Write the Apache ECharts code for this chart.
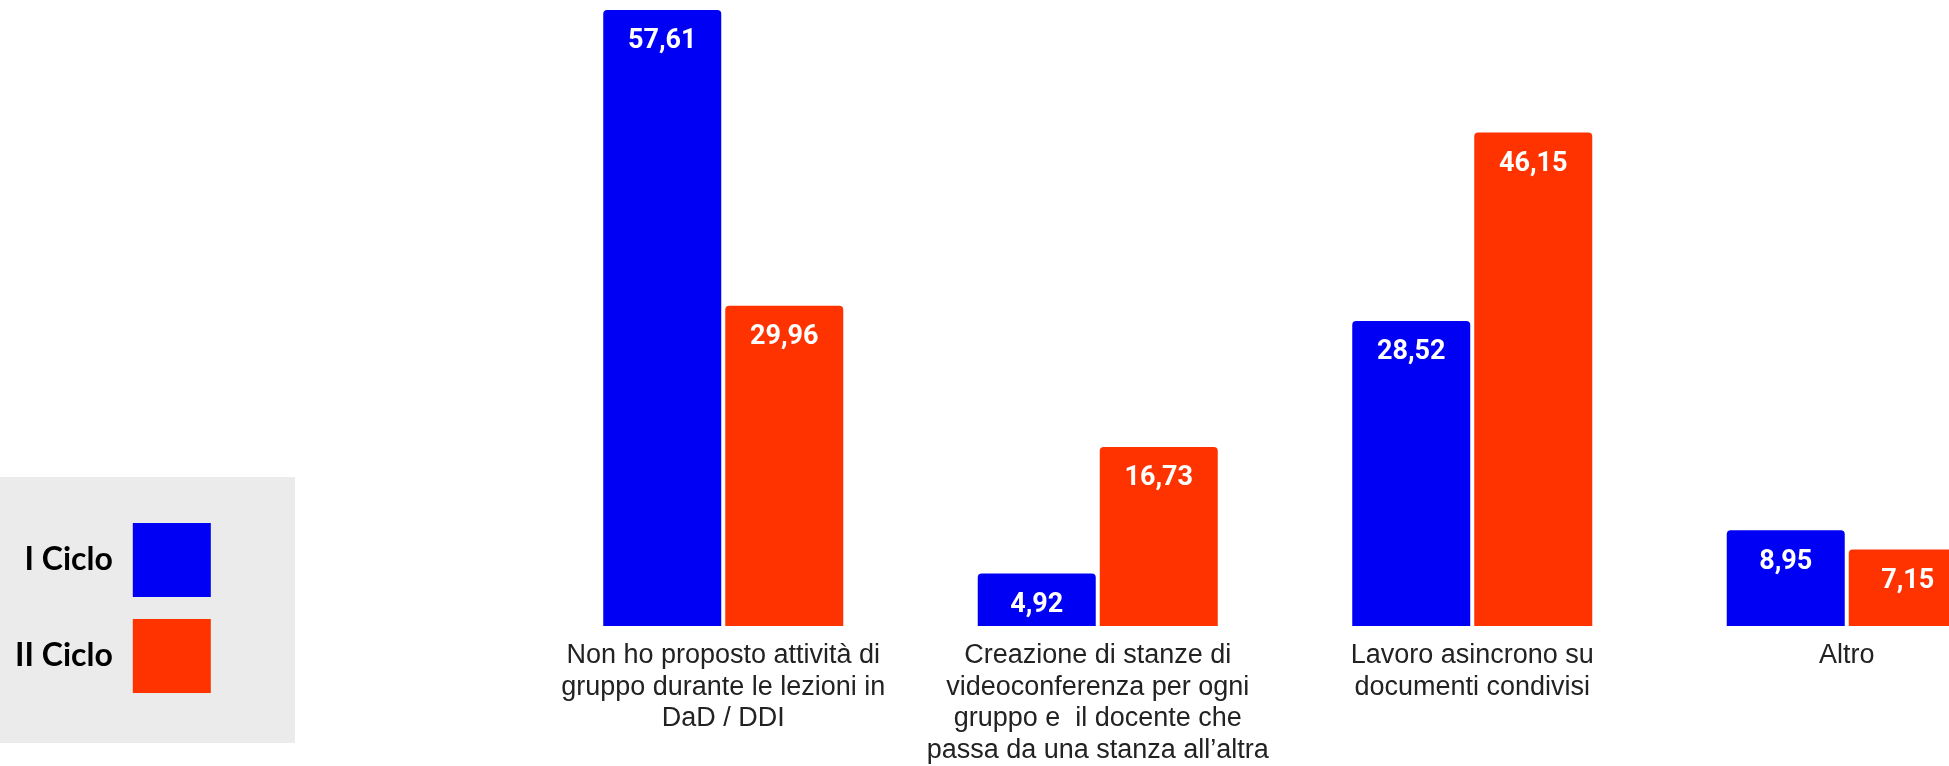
<!DOCTYPE html>
<html>
<head>
<meta charset="utf-8">
<script src="https://cdn.jsdelivr.net/npm/echarts@6/dist/echarts.min.js"></script>
<style>
html,body{margin:0;padding:0;background:#fff;}
#chart{width:1949px;height:766px;}
</style>
</head>
<body>
<div id="chart"></div>
<script>
const categories = [
  "Non ho proposto attività di\ngruppo durante le lezioni in\nDaD / DDI",
  "Creazione di stanze di\nvideoconferenza per ogni\ngruppo e  il docente che\npassa da una stanza all’altra",
  "Lavoro asincrono su\ndocumenti condivisi",
  "Altro"
];
const seriesNames = ["I Ciclo", "II Ciclo"];
const ciclo1 = [57.61, 4.92, 28.52, 8.95];
const ciclo2 = [29.96, 16.73, 46.15, 7.15];

const chart = echarts.init(document.getElementById('chart'));
const labelCfg = {
  show: true,
  position: 'insideTop',
  distance: 18,
  color: '#ffffff',
  fontFamily: 'Roboto',
  fontWeight: 'bold',
  fontSize: 27,
  formatter: p => p.value.toFixed(2).replace('.', ',')
};
chart.setOption({
  animation: false,
  backgroundColor: '#ffffff',
  graphic: [{
    type: 'rect',
    left: 0, top: 477,
    shape: {width: 295, height: 266},
    style: {fill: '#ebebeb'},
    z: -10
  }],
  legend: {
    orient: 'vertical',
    left: 15,
    top: 523,
    padding: 0,
    align: 'right',
    itemWidth: 78,
    itemHeight: 74,
    itemGap: 22,
    icon: 'rect',
    data: seriesNames,
    textStyle: {
      fontFamily: 'Lato',
      fontWeight: 'bold',
      fontSize: 32,
      color: '#000',
      width: 100,
      align: 'right',
      padding: [0, 15, 0, 0]
    }
  },
  grid: {left: 536, top: 10, width: 1498, height: 616, containLabel: false, outerBoundsMode: 'none'},
  xAxis: {
    type: 'category',
    data: categories,
    axisLine: {show: false},
    axisTick: {show: false},
    axisLabel: {
      interval: 0,
      margin: 14,
      fontFamily: 'Liberation Sans',
      fontSize: 27,
      lineHeight: 31.5,
      color: '#222'
    }
  },
  yAxis: {
    type: 'value',
    min: 0,
    max: 'dataMax',
    show: false,
    splitLine: {show: false}
  },
  series: [
    {
      name: seriesNames[0], type: 'bar', data: ciclo1,
      barWidth: 118, barGap: '3.4%',
      itemStyle: {color: '#0000f5', borderRadius: [4, 4, 0, 0]},
      label: labelCfg
    },
    {
      name: seriesNames[1], type: 'bar', data: ciclo2,
      barWidth: 118, barGap: '3.4%',
      itemStyle: {color: '#ff3300', borderRadius: [4, 4, 0, 0]},
      label: labelCfg
    }
  ]
});
</script>
</body>
</html>
